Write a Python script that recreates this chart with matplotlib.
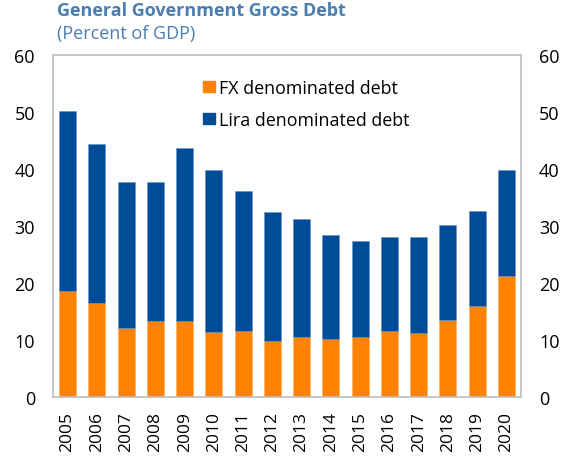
import numpy as np
import matplotlib.pyplot as plt
from matplotlib.patches import Patch

years = ['2005', '2006', '2007', '2008', '2009', '2010', '2011', '2012',
         '2013', '2014', '2015', '2016', '2017', '2018', '2019', '2020']
total = [50.2, 44.3, 37.8, 37.8, 43.6, 39.8, 36.1, 32.5,
         31.2, 28.5, 27.4, 28.0, 28.0, 30.2, 32.6, 39.8]
fx_debt = [18.6, 16.5, 12.1, 13.3, 13.4, 11.4, 11.6, 9.8,
           10.5, 10.1, 10.5, 11.5, 11.3, 13.5, 16.0, 21.2]
lira_debt = [t - f for t, f in zip(total, fx_debt)]

orange = '#FF8200'
blue = '#004C97'
title_col = '#4A7EB0'

plt.rcParams['font.family'] = ['Open Sans', 'DejaVu Sans']

fig = plt.figure(figsize=(5.79, 4.6), dpi=100)
ax = fig.add_axes([53/579, 1 - 398/460, (521 - 53)/579, (398 - 56)/460])

x = np.arange(len(years))
ax.bar(x, fx_debt, width=0.58, color=orange, edgecolor='#FFB060', linewidth=0.4)
ax.bar(x, lira_debt, width=0.58, bottom=fx_debt, color=blue, edgecolor='#6A8FC0', linewidth=0.4)

ax.set_xlim(-0.5, len(years) - 0.5)
ax.set_ylim(0, 60)
ax.set_yticks(range(0, 61, 10))
ax.set_xticks(x)
ax.set_xticklabels(years, rotation=90, fontsize=12.5)
ax.tick_params(axis='y', labelsize=13, length=0, pad=13)
ax.tick_params(axis='x', length=0, pad=10)
for s in ax.spines.values():
    s.set_color('#BFBFBF')
    s.set_linewidth(1.2)

ax2 = ax.twinx()
ax2.set_ylim(0, 60)
ax2.set_yticks(range(0, 61, 10))
ax2.tick_params(axis='y', labelsize=13, length=0, pad=13)
for s in ax2.spines.values():
    s.set_visible(False)

handles = [Patch(color=orange, label='FX denominated debt'),
           Patch(color=blue, label='Lira denominated debt')]
ax.legend(handles=handles, loc='upper left', bbox_to_anchor=(0.32, 0.93),
          frameon=False, fontsize=12.9, handlelength=0.67, handleheight=0.62,
          handletextpad=0.22, labelspacing=0.78, borderpad=0, borderaxespad=0)

fig.text(57/579, 1 - 11/460, 'General Government Gross Debt', color=title_col,
         fontsize=13, fontweight='bold', va='center', ha='left')
fig.text(57/579, 1 - 34/460, '(Percent of GDP)', color=title_col,
         fontsize=13, va='center', ha='left')

fig.savefig('out.png', dpi=100)
